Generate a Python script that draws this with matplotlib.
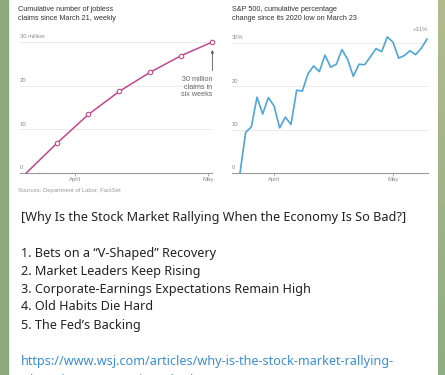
import numpy as np
import matplotlib
matplotlib.use("Agg")
import matplotlib.pyplot as plt
from matplotlib.patches import Rectangle

# Jobless claims, cumulative (millions), weekly
claims_dates = np.array(["2020-03-21", "2020-03-28", "2020-04-04", "2020-04-11",
                         "2020-04-18", "2020-04-25", "2020-05-02"], dtype="datetime64[D]")
claims_values = [0, 6.9, 13.4, 18.7, 23.1, 26.9, 30.0]

# S&P 500 cumulative % change since March 23 low (trading days)
spx_dates = np.array([
    "2020-03-23", "2020-03-24", "2020-03-25", "2020-03-26", "2020-03-27",
    "2020-03-30", "2020-03-31", "2020-04-01", "2020-04-02", "2020-04-03",
    "2020-04-06", "2020-04-07", "2020-04-08", "2020-04-09", "2020-04-13",
    "2020-04-14", "2020-04-15", "2020-04-16", "2020-04-17", "2020-04-20",
    "2020-04-21", "2020-04-22", "2020-04-23", "2020-04-24", "2020-04-27",
    "2020-04-28", "2020-04-29", "2020-04-30", "2020-05-01", "2020-05-04",
    "2020-05-05", "2020-05-06", "2020-05-07", "2020-05-08"], dtype="datetime64[D]")
spx_values = [0, 9.4, 10.6, 17.5, 13.6, 17.4, 15.5, 10.4, 12.9, 11.2,
              19.1, 18.9, 22.9, 24.7, 23.4, 27.2, 24.4, 25.1, 28.5, 26.2,
              22.3, 25.1, 25.0, 26.8, 28.7, 28.0, 31.4, 30.2, 26.5, 27.1,
              28.2, 27.3, 28.8, 30.9]

yticks = [0, 10, 20, 30]
left_ylabels = ["0", "10", "20", "30 million"]
right_ylabels = ["0", "10", "20", "30%"]
month_ticks = np.array(["2020-04-01", "2020-05-01"], dtype="datetime64[D]")
month_labels = ["April", "May"]

headline = "[Why Is the Stock Market Rallying When the Economy Is So Bad?]"
reasons = ["1. Bets on a \u201cV-Shaped\u201d Recovery",
           "2. Market Leaders Keep Rising",
           "3. Corporate-Earnings Expectations Remain High",
           "4. Old Habits Die Hard",
           "5. The Fed\u2019s Backing"]
url1 = "https://www.wsj.com/articles/why-is-the-stock-market-rallying-"
url2 = "when-the-economy-is-so-bad-11589004000"

W, H = 445, 375
fig = plt.figure(figsize=(W / 100, H / 100), dpi=100)
fig.patch.set_facecolor("white")

# green background strips at the sides
fig.patches.append(Rectangle((0, 0), 8 / W, 1, transform=fig.transFigure,
                             color="#8ca87c", zorder=0))
bg = fig.add_axes([438 / W, 0, 7 / W, 1], zorder=-1)
grad = np.linspace(0, 1, 100)[:, None, None]
top_c = np.array([0.70, 0.735, 0.56])
bot_c = np.array([0.56, 0.675, 0.51])
bg.imshow(top_c * (1 - grad) + bot_c * grad, aspect="auto", extent=[0, 1, 0, 1])
bg.axis("off")


def px_axes(x0, x1, ytop, ybot):
    return fig.add_axes([x0 / W, 1 - ybot / H, (x1 - x0) / W, (ybot - ytop) / H])


grey = "#8a8a8a"
chart_font = "Liberation Sans"


def style(ax, labels, xlim, ticks):
    ax.set_ylim(0, 30)
    ax.set_xlim(*xlim)
    for s in ["top", "right", "left"]:
        ax.spines[s].set_visible(False)
    ax.spines["bottom"].set_color("#9a9a9a")
    ax.spines["bottom"].set_linewidth(0.8)
    for y in yticks[1:]:
        ax.axhline(y, color="#ebebeb", lw=0.7, zorder=0)
    ax.set_yticks([])
    ax.set_xticks(ticks)
    ax.set_xticklabels(month_labels, fontsize=4.3, color=grey, family=chart_font)
    ax.tick_params(axis="x", length=2, width=0.6, color="#9a9a9a", pad=1)
    for y, lab in zip(yticks, labels):
        ax.text(0.0, y + 0.6, lab, transform=ax.get_yaxis_transform(),
                fontsize=4.2, color=grey, family=chart_font, va="bottom", ha="left")


# left chart: jobless claims
ax1 = px_axes(20, 212, 42, 173)
style(ax1, left_ylabels,
      (np.datetime64("2020-03-19T14:00"), np.datetime64("2020-05-01T22:00")), month_ticks)
ax1.plot(claims_dates, claims_values, color="#c2488a", lw=1.1, clip_on=False, zorder=3)
ax1.plot(claims_dates[1:], claims_values[1:], "o", ms=3.2, mfc="white", mec="#c2488a",
         mew=0.8, clip_on=False, zorder=4)
ax1.annotate("", xy=(claims_dates[-1], 28.8), xytext=(claims_dates[-1], 22.8),
             arrowprops=dict(arrowstyle="-|>", color="#555555", lw=0.6,
                             mutation_scale=4), annotation_clip=False)
ax1.text(claims_dates[-1], 22.2, "30 million\nclaims in\nsix weeks", fontsize=5.2,
         color="#666666", family=chart_font, ha="right", va="top", linespacing=1.1)
fig.text(18 / W, 1 - 14 / H, "Cumulative number of jobless\nclaims since March 21, weekly",
         fontsize=5.2, color="#333333", family=chart_font, va="center", ha="left",
         linespacing=1.3)
fig.text(18 / W, 1 - 190 / H, "Sources: Department of Labor; FactSet", fontsize=4.2,
         color="#999999", family=chart_font, va="center", ha="left")

# right chart: S&P 500, trading days evenly spaced
spx_idx = np.arange(len(spx_values))
# month ticks sit at the last trading day of the previous month
spx_ticks = [np.searchsorted(spx_dates, m) - 1 for m in month_ticks]
ax2 = px_axes(232, 428, 43, 173)
style(ax2, right_ylabels, (-1.41, 33.18), spx_ticks)
ax2.plot(spx_idx, spx_values, color="#4ea6d8", lw=1.2, clip_on=False, zorder=3)
ax2.text(1.0, 32.5, "+31%", transform=ax2.get_yaxis_transform(), fontsize=4.3,
         color=grey, family=chart_font, ha="right", va="bottom")
fig.text(232 / W, 1 - 14 / H, "S&P 500, cumulative percentage\nchange since its 2020 low on March 23",
         fontsize=5.2, color="#333333", family=chart_font, va="center", ha="left",
         linespacing=1.3)

# message text below
body_font = "Noto Sans"
fig.text(21 / W, 1 - 218 / H, headline, fontsize=9.1, color="#222222",
         family=body_font, va="center", ha="left")
for i, line in enumerate(reasons):
    fig.text(21 / W, 1 - (253 + 18 * i) / H, line, fontsize=9.1, color="#222222",
             family=body_font, va="center", ha="left")
fig.text(21 / W, 1 - 362 / H, url1, fontsize=9.1, color="#3b8fd6",
         family=body_font, va="center", ha="left")
fig.text(21 / W, 1 - 380 / H, url2, fontsize=9.1, color="#3b8fd6",
         family=body_font, va="center", ha="left")

fig.savefig("out.png", dpi=100)
